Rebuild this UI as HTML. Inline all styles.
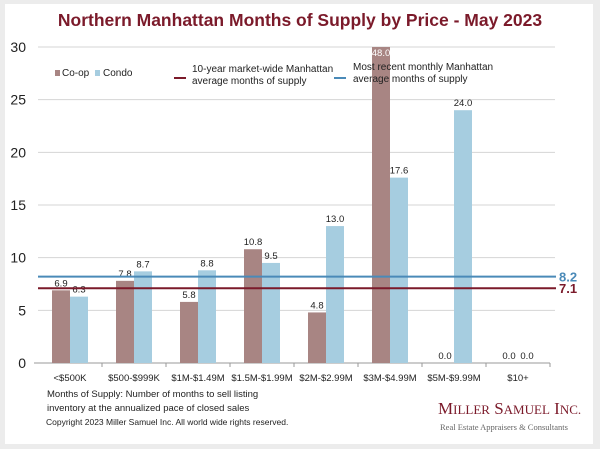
<!DOCTYPE html>
<html><head><meta charset="utf-8"><style>
body{margin:0;background:#ececec;font-family:"Liberation Sans",sans-serif}
svg{display:block}
</style></head><body>
<svg width="600" height="449" xmlns="http://www.w3.org/2000/svg" font-family="Liberation Sans, sans-serif">
<rect x="0" y="0" width="600" height="449" fill="#ececec"/>
<rect x="5" y="4" width="588" height="440" fill="#ffffff"/>
<text x="300" y="26" text-anchor="middle" font-size="17.5" font-weight="bold" fill="#7b1a2a">Northern Manhattan Months of Supply by Price - May 2023</text>
<g id="grid"></g>
<g id="bars"></g>
<g id="legend" font-size="10" fill="#222">
<rect x="55" y="70" width="5" height="6" fill="#a88583"/>
<text x="62" y="76">Co-op</text>
<rect x="95" y="70" width="5" height="6" fill="#a6cde0"/>
<text x="103" y="76">Condo</text>
<line x1="174" y1="78" x2="186" y2="78" stroke="#7b1a2a" stroke-width="2"/>
<text x="192" y="72"><tspan x="192">10-year market-wide Manhattan</tspan><tspan x="192" dy="12">average months of supply</tspan></text>
<line x1="334" y1="78" x2="346" y2="78" stroke="#4a8ab8" stroke-width="2"/>
<text x="353" y="70"><tspan x="353">Most recent monthly Manhattan</tspan><tspan x="353" dy="12">average months of supply</tspan></text>
</g>
<text font-size="9.5" fill="#222"><tspan x="47" y="397">Months of Supply: Number of months to sell listing</tspan><tspan x="47" y="411">inventory at the annualized pace of closed sales</tspan></text>
<text x="46" y="425" font-size="8.5" fill="#222">Copyright 2023 Miller Samuel Inc.  All world wide rights reserved.</text>
<text x="438" y="414" font-family="Liberation Serif, serif" font-size="17" fill="#7b1a2a">M<tspan font-size="13">ILLER</tspan> S<tspan font-size="13">AMUEL</tspan> I<tspan font-size="13">NC.</tspan></text>
<text x="440" y="430" font-family="Liberation Serif, serif" font-size="8.5" fill="#666">Real Estate Appraisers &amp; Consultants</text>
</svg>
<script>
const categories=["<$500K","$500-$999K","$1M-$1.49M","$1.5M-$1.99M","$2M-$2.99M","$3M-$4.99M","$5M-$9.99M","$10+"];
const coopValues=[6.9,7.8,5.8,10.8,4.8,48.0,0.0,0.0];
const condoValues=[6.3,8.7,8.8,9.5,13.0,17.6,24.0,0.0];
const yTicks=[0,5,10,15,20,25,30];
const tenYearAvg=7.1;
const recentAvg=8.2;
const NS="http://www.w3.org/2000/svg";
const x0=38,x1=550,yTop=47,yBot=363,yMax=30;
const y=v=>yBot-(Math.min(v,yMax)/yMax)*(yBot-yTop);
const bw=(x1-x0)/categories.length;
const cx=i=>x0+bw*(i+0.5);
function mk(tag,attrs,parent){const e=document.createElementNS(NS,tag);for(const k in attrs)e.setAttribute(k,attrs[k]);parent.appendChild(e);return e;}
const grid=document.getElementById('grid'),bars=document.getElementById('bars');
yTicks.forEach(t=>{
 if(t>0){const l=mk('line',{x1:x0,x2:x1+5,y1:y(t),y2:y(t),stroke:'#d4d4d4','stroke-width':1},grid);
 
 }
 const tx=mk('text',{x:26,y:y(t)+5,'text-anchor':'end','font-size':14,fill:'#222'},grid);tx.textContent=t;
 
 
});
const ax=mk('line',{x1:x0-4,x2:x1,y1:yBot,y2:yBot,stroke:'#999'},grid);


categories.forEach((c,i)=>{
 const t=mk('text',{x:cx(i),y:yBot+18,'text-anchor':'middle','font-size':9.5,fill:'#222'},grid);t.textContent=c;
 
 
 const tk=mk('line',{x1:x0+bw*(i+1),x2:x0+bw*(i+1),y1:yBot,y2:yBot+4,stroke:'#999'},grid);
 
 
 [[coopValues[i],'#a88583',-18,'coop'],[condoValues[i],'#a6cde0',0,'condo']].forEach(([v,col,off,nm])=>{
  const bx=cx(i)+off;
  if(v>0){const r=mk('rect',{x:bx,y:y(v),width:18,height:yBot-y(v),fill:col},bars);
  
  }
  const lt=mk('text',{x:bx+9,y:v>yMax?y(v)+9:y(v)-4,'text-anchor':'middle','font-size':9.5,fill:v>yMax?'#fff':'#222'},bars);
  lt.textContent=v.toFixed(1);
  
  
 });
});
[[recentAvg,'#4a8ab8','recent-avg'],[tenYearAvg,'#7b1a2a','ten-year-avg']].forEach(([v,col,nm])=>{
 const l=mk('line',{x1:x0,x2:556,y1:y(v),y2:y(v),stroke:col,'stroke-width':2},bars);
 
 
 const t=mk('text',{x:559,y:y(v)+5,'font-size':13,'font-weight':'bold',fill:col},bars);t.textContent=v.toFixed(1);
 
 
});
</script>
</body></html>
